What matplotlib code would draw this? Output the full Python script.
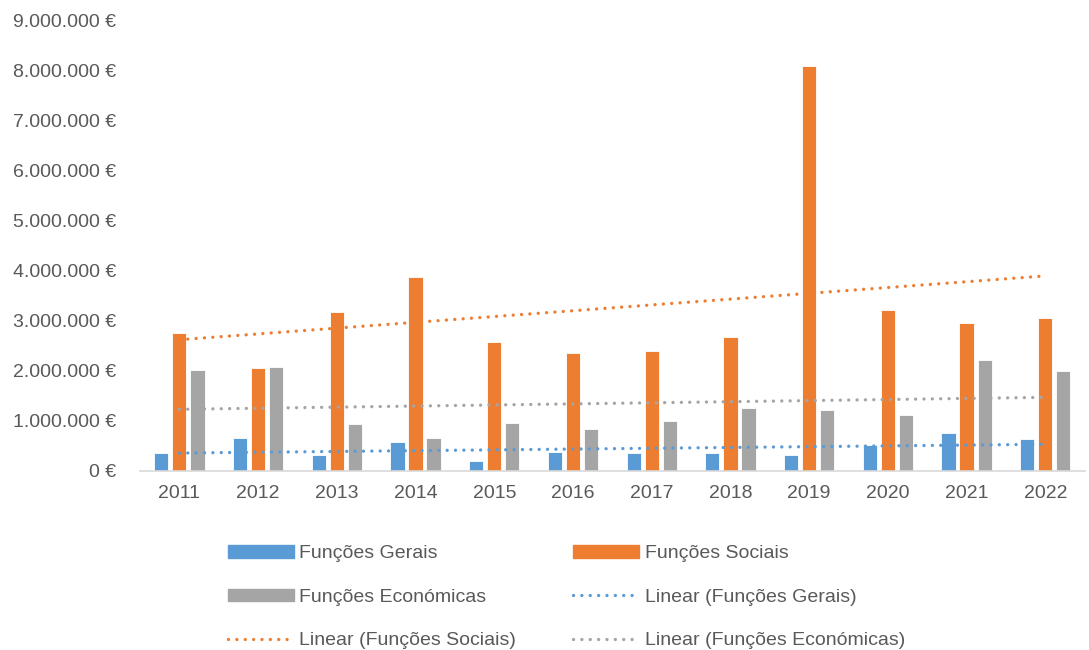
import numpy as np
import matplotlib
matplotlib.use("Agg")
import matplotlib.pyplot as plt
from matplotlib.ticker import FuncFormatter
from matplotlib.patches import Patch
from matplotlib.lines import Line2D

plt.rcParams['font.family'] = ['Liberation Sans', 'DejaVu Sans']

## dados
anos = ['2011', '2012', '2013', '2014', '2015', '2016', '2017', '2018', '2019', '2020', '2021', '2022']
gerais = [350000, 660000, 310000, 570000, 190000, 370000, 350000, 350000, 310000, 510000, 750000, 640000]
sociais = [2750000, 2050000, 3170000, 3880000, 2570000, 2360000, 2390000, 2670000, 8100000, 3220000, 2950000, 3050000]
economicas = [2010000, 2070000, 940000, 650000, 950000, 840000, 990000, 1250000, 1220000, 1110000, 2210000, 2000000]

azul = '#5B9BD5'
laranja = '#ED7D31'
cinza = '#A5A5A5'
texto = '#595959'

fig = plt.figure(figsize=(10.89, 6.5), dpi=100)
ax = fig.add_axes([0.1286, 0.2754, 0.8674, 0.6923])

x = np.arange(len(anos))
w = 0.18
off = 0.229
ax.bar(x - off, gerais, w, color=azul, edgecolor='white', linewidth=0.6)
ax.bar(x, sociais, w, color=laranja, edgecolor='white', linewidth=0.6)
ax.bar(x + off, economicas, w, color=cinza, edgecolor='white', linewidth=0.6)

# linhas de tendencia (linear)
pontilhado = (0, (0.01, 2.5))
lw_t = 2.4
for serie, cor in [(gerais, azul), (sociais, laranja), (economicas, cinza)]:
    a, b = np.polyfit(x, serie, 1)
    ax.plot(x, a * x + b, color=cor, lw=lw_t, linestyle=pontilhado, dash_capstyle='round')

ax.set_xlim(-0.5, len(anos) - 0.5)
ax.set_ylim(0, 9000000)
ax.set_yticks(np.arange(0, 9000001, 1000000))
ax.yaxis.set_major_formatter(FuncFormatter(lambda v, p: '{:,.0f} €'.format(v).replace(',', '.')))
ax.set_xticks(x)
ax.set_xticklabels(anos)

for s in ['top', 'right', 'left']:
    ax.spines[s].set_visible(False)
ax.spines['bottom'].set_color('#D9D9D9')
ax.spines['bottom'].set_linewidth(1.2)
ax.tick_params(axis='y', length=0, labelsize=14, labelcolor=texto, pad=17)
ax.tick_params(axis='x', length=0, labelsize=14, labelcolor=texto, pad=10)

handles = [
    Patch(color=azul, label='Funções Gerais'),
    Patch(color=cinza, label='Funções Económicas'),
    Line2D([], [], color=laranja, lw=lw_t, linestyle=pontilhado, dash_capstyle='round', label='Linear (Funções Sociais)'),
    Patch(color=laranja, label='Funções Sociais'),
    Line2D([], [], color=azul, lw=lw_t, linestyle=pontilhado, dash_capstyle='round', label='Linear (Funções Gerais)'),
    Line2D([], [], color=cinza, lw=lw_t, linestyle=pontilhado, dash_capstyle='round', label='Linear (Funções Económicas)'),
]
leg = fig.legend(handles=handles, ncol=2, loc='upper left', bbox_to_anchor=(0.2, 0.176),
                 frameon=False, fontsize=14, handlelength=3.4, handleheight=0.6,
                 handletextpad=0.3, columnspacing=2.9, labelspacing=1.36, borderpad=0)
for t in leg.get_texts():
    t.set_color(texto)

fig.savefig('out.png', dpi=100)
